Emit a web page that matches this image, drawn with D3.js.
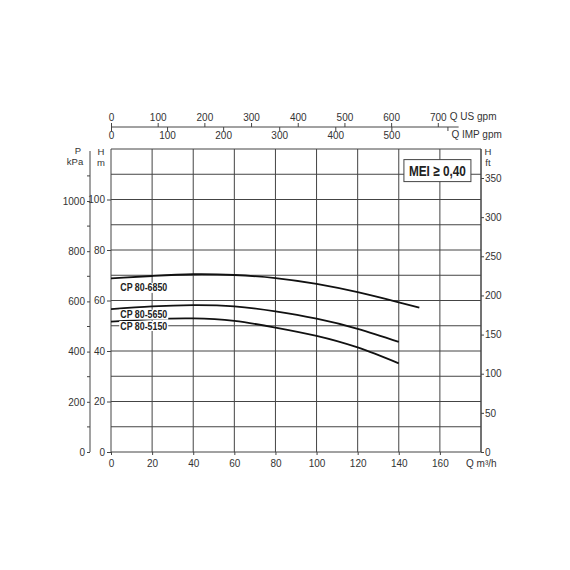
<!DOCTYPE html>
<html>
<head>
<meta charset="utf-8">
<script src="https://cdn.jsdelivr.net/npm/d3@7"></script>
<style>
  body { margin: 0; background: #fff; }
  text { font-family: "Liberation Sans", Arial, sans-serif; font-size: 10px; fill: #333; }
  .domain, .tick line { stroke: #444; }
  .unit { font-size: 9.5px; }
  .curveLabel { font-family: "Liberation Sans Narrow", "Liberation Sans", sans-serif; font-weight: bold; font-size: 10px; fill: #222; }
</style>
</head>
<body>
<div id="chart"></div>
<script>
const width = 570
const height = 570
const margin = {
    top: 149,
    bottom: 118,
    right: 89,
    left: 111,
}
const innerW = width - margin.left - margin.right
const innerH = height - margin.top - margin.bottom

// curve data, Q m3/h vs H m
const flow = [0, 20, 40, 60, 80, 100, 120, 140]
const flow6850 = [0, 20, 40, 60, 80, 100, 120, 140, 150]
const head6850 = [68.8, 69.7, 70.4, 70.1, 68.9, 66.6, 63.3, 59.3, 57.2]
const head5650 = [56.6, 57.7, 58.2, 57.7, 55.7, 52.8, 48.8, 43.6]
const head5150 = [51.6, 52.6, 52.9, 51.9, 49.3, 46.0, 41.4, 35.1]
const curveNames = ["CP 80-6850", "CP 80-5650", "CP 80-5150"]

// tick values
const qTicks = [0, 20, 40, 60, 80, 100, 120, 140, 160]
const hTicks = [0, 20, 40, 60, 80, 100]
const pTicks = [0, 200, 400, 600, 800, 1000]
const pMinor = [100, 300, 500, 700, 900, 1100]
const ftTicks = [0, 50, 100, 150, 200, 250, 300, 350]
const usTicks = [0, 100, 200, 300, 400, 500, 600, 700]
const impTicks = [0, 100, 200, 300, 400, 500, 600]

const svg = d3.select("div#chart").append("svg").attr("width", width).attr("height", height)

const x = d3.scaleLinear().domain([0, 180]).range([0, innerW])
const y = d3.scaleLinear().domain([0, 120]).range([innerH, 0])
const yP = d3.scaleLinear().domain([0, 1000]).range([innerH, innerH - 251])
const yFt = d3.scaleLinear().domain([0, 350]).range([innerH, innerH - 274])
const xUs = d3.scaleLinear().domain([0, 180 * 4.403]).range([0, innerW])
const xImp = d3.scaleLinear().domain([0, 180 * 3.666]).range([0, innerW])

const g = svg.append("g").attr("transform", `translate(${margin.left}, ${margin.top})`)

// grid
const grid = g.append("g").attr("class", "grid")
grid.selectAll("line.v").data(d3.range(0, 181, 20)).enter().append("line")
    .attr("x1", d => x(d)).attr("x2", d => x(d))
    .attr("y1", 0).attr("y2", innerH)
    .attr("stroke", "#444").attr("stroke-width", 1)
grid.selectAll("line.h").data(d3.range(10, 121, 10)).enter().append("line")
    .attr("x1", 0).attr("x2", innerW)
    .attr("y1", d => y(d)).attr("y2", d => y(d))
    .attr("stroke", "#444").attr("stroke-width", 1)

// bottom axis
const xAxisGroup = g.append("g").attr("transform", `translate(0, ${innerH})`)
    .call(d3.axisBottom(x).tickValues(qTicks).tickSize(3).tickSizeOuter(0))
xAxisGroup.selectAll("text").attr("dy", "0.9em")
xAxisGroup.select(".domain").attr("d", `M0,0H${innerW}`)
g.append("text").attr("x", innerW - 15).attr("y", innerH + 15).text("Q m³/h")

// left H axis
const yAxisGroup = g.append("g")
    .call(d3.axisLeft(y).tickValues(hTicks).tickSize(4).tickPadding(2))
yAxisGroup.select(".domain").remove()
g.append("text").attr("class", "unit").attr("x", -10).attr("y", 6).attr("text-anchor", "middle").text("H")
g.append("text").attr("class", "unit").attr("x", -10).attr("y", 17).attr("text-anchor", "middle").text("m")

// left P axis
const pGroup = g.append("g").attr("transform", `translate(-21, 0)`)
pGroup.call(d3.axisLeft(yP).tickValues(pTicks).tickFormat(d3.format("d")).tickSize(3).tickPadding(2).tickSizeOuter(0))
pGroup.select(".domain").attr("d", `M0,${innerH}V2`)
pGroup.selectAll("line.minor").data(pMinor).enter().append("line")
    .attr("class", "minor")
    .attr("x1", -3).attr("x2", 0)
    .attr("y1", d => yP(d)).attr("y2", d => yP(d))
    .attr("stroke", "#444")
g.append("text").attr("class", "unit").attr("x", -33).attr("y", 5).attr("text-anchor", "middle").text("P")
g.append("text").attr("class", "unit").attr("x", -36).attr("y", 16).attr("text-anchor", "middle").text("kPa")

// right ft axis
const ftGroup = g.append("g").attr("transform", `translate(${innerW}, 0)`)
    .call(d3.axisRight(yFt).tickValues(ftTicks).tickSize(3).tickPadding(1))
ftGroup.select(".domain").attr("d", `M0,${innerH}V0`)
g.append("text").attr("class", "unit").attr("x", innerW + 7).attr("y", 6).attr("text-anchor", "middle").text("H")
g.append("text").attr("class", "unit").attr("x", innerW + 7).attr("y", 17).attr("text-anchor", "middle").text("ft")

// top flow axes
const topY = -22
const usGroup = g.append("g").attr("transform", `translate(0, ${topY})`)
    .call(d3.axisTop(xUs).tickValues(usTicks).tickSize(4).tickPadding(2).tickSizeOuter(0))
usGroup.select(".domain").attr("d", `M0,0H${xImp(620)}`)
const impGroup = g.append("g").attr("transform", `translate(0, ${topY})`)
    .call(d3.axisBottom(xImp).tickValues(impTicks).tickSize(4).tickPadding(1).tickSizeOuter(0))
impGroup.select(".domain").remove()
impGroup.selectAll(".tick").filter(d => d === 600).select("text").remove()
g.append("text").attr("x", xUs(700) + 12).attr("y", topY - 7).text("Q US gpm")
g.append("text").attr("x", xImp(600) + 4).attr("y", topY + 11).text("Q IMP gpm")

// curves
const line = d3.line().curve(d3.curveNatural)
const curves = [
    flow6850.map((q, i) => [x(q), y(head6850[i])]),
    flow.map((q, i) => [x(q), y(head5650[i])]),
    flow.map((q, i) => [x(q), y(head5150[i])]),
]
g.selectAll("path.curve").data(curves).enter().append("path")
    .attr("class", "curve")
    .attr("d", line)
    .attr("fill", "none")
    .attr("stroke", "#111")
    .attr("stroke-width", 1.8)

// curve labels
const labelY = [head6850[0] - 3.8, head5650[0] - 2.2, head5150[0] - 1.7]
const labels = g.selectAll("g.curveLabel").data(curveNames).enter().append("g")
    .attr("transform", (d, i) => `translate(${x(4.5)}, ${y(labelY[i])})`)
labels.append("rect").attr("x", -1).attr("y", -5).attr("width", 49).attr("height", 10).attr("fill", "#fff")
labels.append("text").attr("class", "curveLabel").attr("dy", "0.35em")
    .attr("textLength", 47).attr("lengthAdjust", "spacingAndGlyphs")
    .text(d => d)

// MEI box
const mei = g.append("g").attr("transform", `translate(${x(142.5)}, ${y(115.8)})`)
mei.append("rect").attr("width", 67).attr("height", 22).attr("fill", "#fff").attr("stroke", "#444")
mei.append("text").attr("x", 33.5).attr("y", 16).attr("text-anchor", "middle")
    .attr("textLength", 57).attr("lengthAdjust", "spacingAndGlyphs")
    .style("font-size", "15px").style("font-weight", "bold").style("fill", "#222")
    .text("MEI ≥ 0,40")
</script>
</body>
</html>
